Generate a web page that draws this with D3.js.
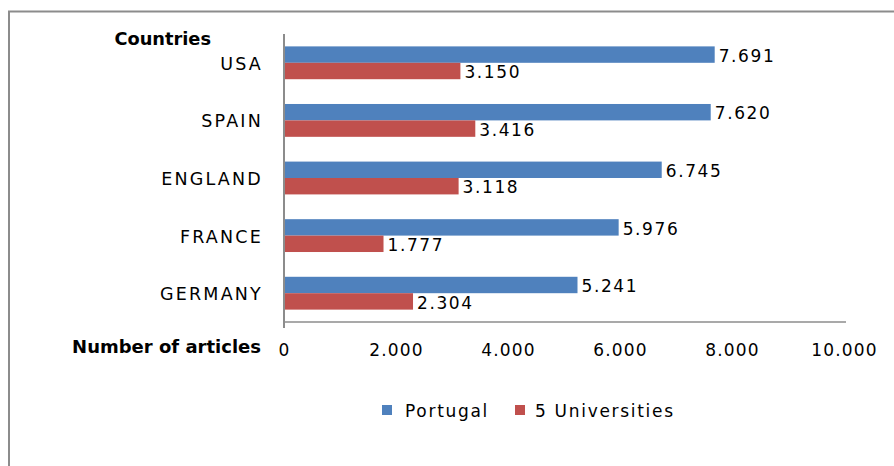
<!DOCTYPE html>
<html><head><meta charset="utf-8">
<script src="https://cdn.jsdelivr.net/npm/d3@7"></script>
<style>body{margin:0;background:#fff}svg{display:block}text{font-family:"DejaVu Sans",Verdana,sans-serif}</style>
</head><body>
<script>
const countries = ["USA","SPAIN","ENGLAND","FRANCE","GERMANY"];
const seriesNames = ["Portugal","5 Universities"];
const portugal = [7691,7620,6745,5976,5241];
const universities = [3150,3416,3118,1777,2304];
const ticks = [0,2000,4000,6000,8000,10000];
const colors = ["#4f81bd","#c0504d"];

const W=894,H=466;
const svg=d3.select("body").append("svg").attr("width",W).attr("height",H);
// frame
svg.append("path").attr("d","M9,466V11.5H894").attr("fill","none").attr("stroke","#8c8c8c").attr("stroke-width",2);

const x=d3.scaleLinear().domain([0,10000]).range([284,844]);
const y=d3.scaleBand().domain(countries).range([34,322]).paddingInner(0.43).paddingOuter(0.215);
const sub=d3.scaleBand().domain(seriesNames).range([0,y.bandwidth()]);
const fmt=v=>d3.format(",")(v).replace(/,/g,".");

const series=[portugal,universities];
series.forEach((vals,si)=>{
  const g=svg.append("g");
  g.selectAll("rect").data(vals).join("rect")
    .attr("x",x(0)).attr("y",(d,i)=>y(countries[i])+sub(seriesNames[si]))
    .attr("width",d=>x(d)-x(0)).attr("height",sub.bandwidth())
    .attr("fill",colors[si]);
  g.selectAll("text").data(vals).join("text")
    .attr("x",d=>x(d)+4).attr("y",(d,i)=>y(countries[i])+sub(seriesNames[si])+sub.bandwidth()/2+1)
    .attr("dy","0.36em").attr("font-size",17).attr("letter-spacing",1.6).attr("fill","#000")
    .text(fmt);
});

// y axis
const ya=svg.append("g").attr("transform",`translate(${x(0)},0)`)
  .call(d3.axisLeft(y).tickSize(0).tickPadding(21));
ya.select(".domain").attr("stroke","#8c8c8c").attr("stroke-width",2).attr("d","M0,34V328");
ya.selectAll("text").attr("font-size",17.5).attr("letter-spacing",2.2).attr("fill","#000").attr("font-family","DejaVu Sans").attr("dy","0.4em");

// x axis
const xa=svg.append("g").attr("transform","translate(0,322)")
  .call(d3.axisBottom(x).tickValues(ticks).tickSize(0).tickPadding(22).tickFormat(fmt));
xa.select(".domain").attr("stroke","#8c8c8c").attr("stroke-width",1.5).attr("d",`M${x(0)},0H846`);
xa.selectAll("text").attr("font-size",17).attr("letter-spacing",1.2).attr("fill","#000").attr("font-family","DejaVu Sans");

svg.append("text").attr("x",211).attr("y",45).attr("text-anchor","end").attr("font-size",17.8).attr("font-weight","bold").text("Countries");
svg.append("text").attr("x",261).attr("y",353).attr("text-anchor","end").attr("font-size",18).attr("font-weight","bold").text("Number of articles");

// legend
const leg=[{x:382,tx:405},{x:515,tx:535}];
seriesNames.forEach((n,i)=>{
  svg.append("rect").attr("x",leg[i].x).attr("y",405).attr("width",10).attr("height",10).attr("fill",colors[i]);
  svg.append("text").attr("x",leg[i].tx).attr("y",411).attr("dy","0.36em").attr("font-size",17).attr("letter-spacing",1.7).text(n);
});
</script>
</body></html>
